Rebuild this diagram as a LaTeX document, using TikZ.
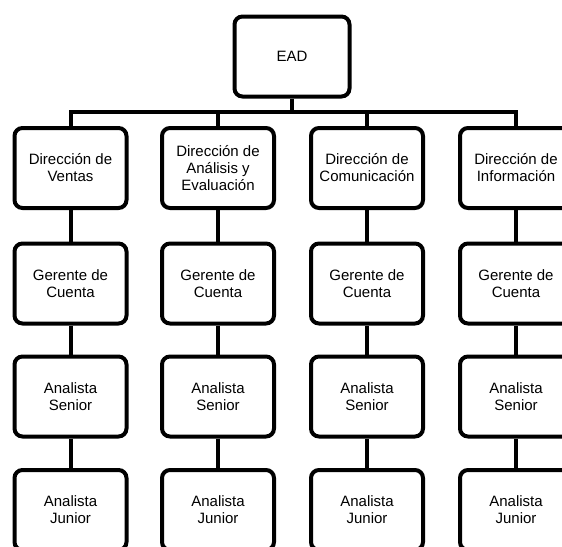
\documentclass[tikz,border=0pt]{standalone}
\usepackage{fontspec}
\setmainfont{Liberation Sans}
\begin{document}
\begin{tikzpicture}[x=1pt,y=-1pt,
  orgbox/.style={draw=black, line width=4pt, rounded corners=8pt, fill=white,
    minimum width=112pt, minimum height=80pt, align=center, inner sep=2pt,
    font=\fontsize{15}{17}\selectfont},
  link/.style={draw=black, line width=4pt, line join=miter}]
\useasboundingbox (0,0) rectangle (562,546);
\clip (0,0) rectangle (562,546);
\fill[white] (0,0) rectangle (562,546);

\node[orgbox, minimum width=115pt] (ead) at (292,56.5) {EAD};

\coordinate (bary) at (0,112);

% row 1
\node[orgbox] (d1) at (70.5,168) {Dirección de\\Ventas};
\node[orgbox] (d2) at (218,168) {Dirección de\\Análisis y\\Evaluación};
\node[orgbox] (d3) at (367,168) {Dirección de\\Comunicación};
\node[orgbox] (d4) at (516,168) {Dirección de\\Información};

% row 2
\node[orgbox] (g1) at (70.5,283.5) {Gerente de\\Cuenta};
\node[orgbox] (g2) at (218,283.5) {Gerente de\\Cuenta};
\node[orgbox] (g3) at (367,283.5) {Gerente de\\Cuenta};
\node[orgbox] (g4) at (516,283.5) {Gerente de\\Cuenta};

% row 3
\node[orgbox] (s1) at (70.5,396.5) {Analista\\Senior};
\node[orgbox] (s2) at (218,396.5) {Analista\\Senior};
\node[orgbox] (s3) at (367,396.5) {Analista\\Senior};
\node[orgbox] (s4) at (516,396.5) {Analista\\Senior};

% row 4
\node[orgbox] (j1) at (70.5,510) {Analista\\Junior};
\node[orgbox] (j2) at (218,510) {Analista\\Junior};
\node[orgbox] (j3) at (367,510) {Analista\\Junior};
\node[orgbox] (j4) at (516,510) {Analista\\Junior};

% connectors
\draw[link] (ead.south) -- (ead.south |- bary);
\draw[link] (d1.north) -- (d1.north |- bary) -- (d4.north |- bary) -- (d4.north);
\draw[link] (d2.north) -- (d2.north |- bary);
\draw[link] (d3.north) -- (d3.north |- bary);
\foreach \c in {1,2,3,4}{
  \draw[link] (d\c.south) -- (g\c.north);
  \draw[link] (g\c.south) -- (s\c.north);
  \draw[link] (s\c.south) -- (j\c.north);
}
\end{tikzpicture}
\end{document}
